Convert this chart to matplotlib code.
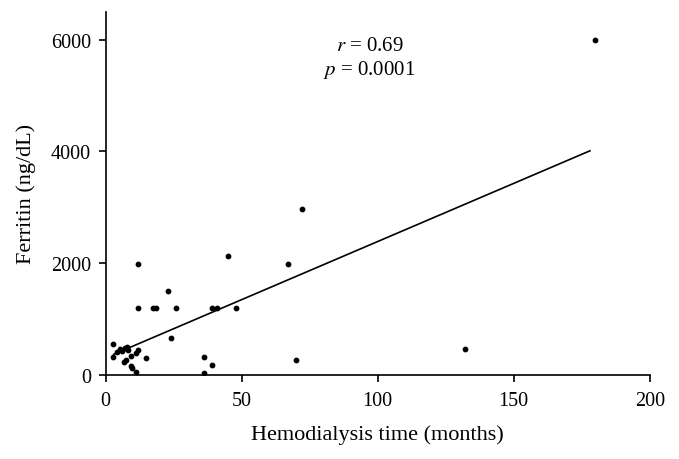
import matplotlib
matplotlib.use("Agg")
import matplotlib.pyplot as plt

plt.rcParams['font.family'] = ['Liberation Serif', 'DejaVu Serif']
plt.rcParams['mathtext.fontset'] = 'stix'

# hemodialysis time (months) vs ferritin (ng/dL)
months = [180, 72, 45, 67, 12, 23, 12, 17.5, 18.7, 26, 39, 41, 48, 24,
          132, 70, 36, 36, 39, 15, 2.6, 2.6, 4.1, 5.3, 6.1, 7, 7.8, 8.3,
          11.1, 12, 9.3, 7.4, 6.7, 9.3, 9.6, 11.1]
ferritin = [6000, 2970, 2130, 1990, 1990, 1500, 1195, 1195, 1195, 1195, 1195, 1195, 1195, 660,
            460, 270, 320, 40, 175, 300, 550, 320, 405, 465, 435, 480, 505, 445,
            390, 440, 345, 260, 225, 165, 130, 50]

# regression line end points
fit_x = [3, 178]
fit_y = [370, 4010]

fig = plt.figure(figsize=(6.79, 4.60), dpi=100)
ax = fig.add_axes([0.1555, 0.1826, 0.8015, 0.79])

ax.scatter(months, ferritin, s=10, color='black', zorder=3)
ax.plot(fit_x, fit_y, color='black', lw=1.2)

ax.text(97, 5890, r'$r$ = 0.69', ha='center', va='center', fontsize=15)
ax.text(97, 5470, r'$p$ = 0.0001', ha='center', va='center', fontsize=15)

ax.set_xlim(0, 200)
ax.set_ylim(0, 6500)
ax.set_xticks([0, 50, 100, 150, 200])
ax.set_yticks([0, 2000, 4000, 6000])
ax.spines['top'].set_visible(False)
ax.spines['right'].set_visible(False)
ax.spines['left'].set_linewidth(1.2)
ax.spines['bottom'].set_linewidth(1.2)
ax.tick_params(direction='out', length=5, width=1.2, labelsize=14.5)
ax.tick_params(axis='x', pad=6.5)
ax.tick_params(axis='y', pad=5.5)

ax.set_xlabel('Hemodialysis time (months)', fontsize=16, labelpad=10)
ax.set_ylabel('Ferritin (ng/dL)', fontsize=16)
ax.yaxis.set_label_coords(-0.128, 0.5)

fig.savefig('out.png', dpi=100)
